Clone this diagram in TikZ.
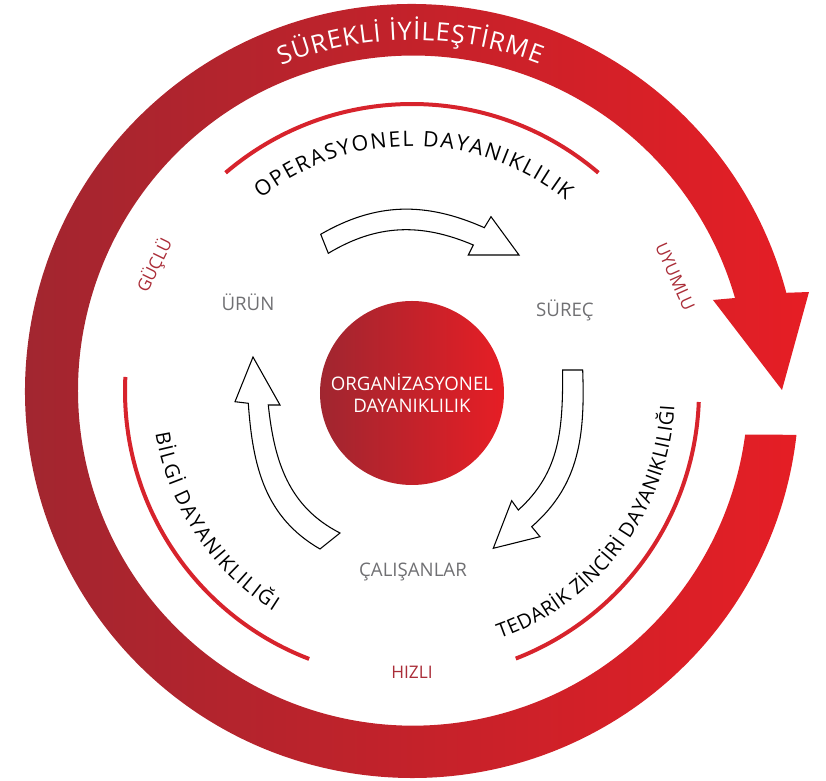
\documentclass[tikz,border=0pt]{standalone}
\usepackage{fontspec}
\setmainfont{Open Sans}
\usetikzlibrary{decorations.text}

\definecolor{ringdark}{RGB}{160,38,48}
\definecolor{ringred}{RGB}{230,30,37}
\definecolor{arcred}{RGB}{215,35,44}
\definecolor{labelred}{RGB}{170,45,56}
\definecolor{labelgray}{RGB}{112,112,115}

\tikzset{
  arcline/.style={arcred, line width=3pt},
  arctext/.style={decorate, decoration={text along path, text align={fit to path}, text={#1}}},
  hollow/.style={draw=black, fill=white, line width=0.8pt},
  valuelabel/.style={text=labelred, font=\fontsize{13}{15}\selectfont, inner sep=0pt},
  partlabel/.style={text=labelgray, font=\fontsize{14}{16}\selectfont, inner sep=0pt},
  core/.style={circle, minimum size=138pt, inner sep=0pt, left color=ringdark, right color=ringred,
    text=white, align=center, font=\fontsize{14}{16.5}\selectfont}
}

\begin{document}
\begin{tikzpicture}[x=0.75pt,y=0.75pt]
\useasboundingbox (-412,-390) rectangle (414,391);

%Outer ring with arrow head
    \shade[left color=ringdark, right color=ringred]
      (-6.5:387) arc[start angle=-6.5, end angle=-345.3, radius=387]
      -- (397,99) -- (370,1) -- (301,91) -- (323,93)
      arc[start angle=-343.95, end angle=-7.55, radius=335] -- cycle;
% Ring text
    \path[arctext={|\fontsize{19}{19}\selectfont|SÜREKLİ İYİLEŞTİRME}, decoration={text color=white}]
      (111.9:351) arc[start angle=111.9, end angle=68.7, radius=351];

%Arcs
    \draw[arcline] (49.5:287) arc[start angle=49.5, end angle=130.5, radius=287];
    \draw[arcline] (177.2:287) arc[start angle=177.2, end angle=249, radius=287];
    \draw[arcline] (-68.8:287) arc[start angle=-68.8, end angle=-2.2, radius=287];

% Arc texts
    \path[arctext={|\fontsize{16}{16}\selectfont|OPERASYONEL DAYANIKLILIK}]
      (128.1:245) arc[start angle=128.1, end angle=51.1, radius=245];
    \path[arctext={|\fontsize{15}{15}\selectfont|BİLGİ DAYANIKLILIĞI}]
      (189.4:260) arc[start angle=189.4, end angle=237.8, radius=260];
    \path[arctext={|\fontsize{15}{15}\selectfont|TEDARİK ZİNCİRİ DAYANIKLILIĞI}]
      (-70.5:263) arc[start angle=-70.5, end angle=-3.3, radius=263];

%Hollow arrows
    \draw[hollow] (-91.3,156.7) to[out=30, in=156] (72.3,163.3) -- (79,174.3) -- (107,136)
      -- (56.3,136) -- (61.3,146) to[out=157, in=31] (-83.7,137.7) -- cycle;
    \draw[hollow] (170.7,21) to[out=-88, in=41] (119.7,-135.7) -- (128,-145.7) -- (81.3,-157.3)
      -- (99.7,-109.7) -- (106.3,-119) to[out=42, in=-90] (150.7,21) -- cycle;
    \draw[hollow] (-92,-158) to[out=150, in=-86] (-163.7,-12.3) -- (-177,-10.7) -- (-159,34)
      -- (-132,-14) -- (-143.7,-14) to[out=-84, in=153] (-72,-142) -- cycle;

% Center
    \node[core] (org) at (0,-2) {ORGANİZASYONEL\\DAYANIKLILIK};

% Text Node
    \node[partlabel] (urun) at (-164,89) {ÜRÜN};
    \node[partlabel] (surec) at (153,81) {SÜREÇ};
    \node[partlabel] (calisanlar) at (1,-181) {ÇALIŞANLAR};
    \node[valuelabel, rotate=64] (guclu) at (154:286) {GÜÇLÜ};
    \node[valuelabel, rotate=-66] (uyumlu) at (23.5:287) {UYUMLU};
    \node[valuelabel] (hizli) at (0,-281) {HIZLI};

\end{tikzpicture}
\end{document}
